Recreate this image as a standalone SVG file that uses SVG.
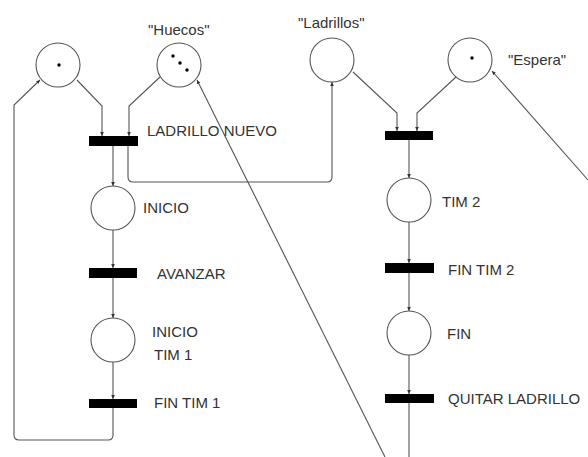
<svg xmlns="http://www.w3.org/2000/svg" width="588" height="457" viewBox="0 0 588 457">
<style>
.pl{fill:#fff;stroke:#555;stroke-width:1.1}
.tr{fill:#000}
.tk{fill:#000}
.ln{fill:none;stroke:#555;stroke-width:1.1}
.lb{font-family:"Liberation Sans",Arial,sans-serif;font-size:15px;fill:#333}
</style>
<defs>
<marker id="ah" markerUnits="userSpaceOnUse" markerWidth="6" markerHeight="6" refX="4" refY="3" orient="auto">
<path d="M0,1.2 L4,3 L0,4.8 z" fill="#333"/>
</marker>
</defs>
<rect width="588" height="457" fill="#fff"/>
<g id="connectors">
<path class="ln" d="M77,80 L102,106 L102,136" marker-end="url(#ah)"/>
<path class="ln" d="M160,77 L129,106 L129,136" marker-end="url(#ah)"/>
<path class="ln" d="M113,146 L113,186" marker-end="url(#ah)"/>
<path class="ln" d="M128,146 L128,177 Q128,182 133,182 L327,182 Q332,182 332,177 L332,82" marker-end="url(#ah)"/>
<path class="ln" d="M113,230 L113,268" marker-end="url(#ah)"/>
<path class="ln" d="M113,278 L113,318" marker-end="url(#ah)"/>
<path class="ln" d="M113,362 L113,399" marker-end="url(#ah)"/>
<path class="ln" d="M113,408 L113,435 Q113,440 108,440 L19,440 Q14,440 14,435 L14,105 L40,80" marker-end="url(#ah)"/>
<path class="ln" d="M353,72 L397,113 L397,131" marker-end="url(#ah)"/>
<path class="ln" d="M456,77 L417,113 L417,131" marker-end="url(#ah)"/>
<path class="ln" d="M409,139 L409,178" marker-end="url(#ah)"/>
<path class="ln" d="M409,222 L409,263" marker-end="url(#ah)"/>
<path class="ln" d="M409,273 L409,311" marker-end="url(#ah)"/>
<path class="ln" d="M409,355 L409,394" marker-end="url(#ah)"/>
<path class="ln" d="M409,403 L409,457"/>
<path class="ln" d="M385,457 L197,80" marker-end="url(#ah)"/>
<path class="ln" d="M588,180 L492,71" marker-end="url(#ah)"/>
</g>
<g id="p1"><circle class="pl" cx="58" cy="65" r="22"/><circle class="tk" cx="59" cy="65" r="1.7"/></g>
<g id="huecos"><circle class="pl" cx="179" cy="65" r="22"/><circle class="tk" cx="173" cy="56" r="1.7"/><circle class="tk" cx="180" cy="63" r="1.7"/><circle class="tk" cx="187" cy="70" r="1.7"/><text class="lb" x="148" y="35">"Huecos"</text></g>
<g id="ladrillos"><circle class="pl" cx="332" cy="60" r="22"/><text class="lb" x="298" y="28">"Ladrillos"</text></g>
<g id="espera"><circle class="pl" cx="470" cy="60" r="22"/><circle class="tk" cx="472" cy="58" r="1.7"/><text class="lb" x="508" y="65">"Espera"</text></g>
<g id="t-ladrillo-nuevo"><rect class="tr" x="89" y="136" width="49" height="10"/><text class="lb" x="147" y="136">LADRILLO NUEVO</text></g>
<g id="inicio"><circle class="pl" cx="113" cy="208" r="22"/><text class="lb" x="143" y="213">INICIO</text></g>
<g id="t-avanzar"><rect class="tr" x="89" y="268" width="48" height="10"/><text class="lb" x="157" y="279">AVANZAR</text></g>
<g id="inicio-tim1"><circle class="pl" cx="113" cy="340" r="22"/><text class="lb" x="152" y="337">INICIO</text><text class="lb" x="154" y="360">TIM 1</text></g>
<g id="t-fin-tim1"><rect class="tr" x="89" y="399" width="48" height="9"/><text class="lb" x="154" y="408">FIN TIM 1</text></g>
<g id="t-right"><rect class="tr" x="385" y="131" width="48" height="9"/></g>
<g id="tim2"><circle class="pl" cx="409" cy="200" r="22"/><text class="lb" x="442" y="207">TIM 2</text></g>
<g id="t-fin-tim2"><rect class="tr" x="385" y="263" width="49" height="10"/><text class="lb" x="448" y="275">FIN TIM 2</text></g>
<g id="fin"><circle class="pl" cx="409" cy="333" r="22"/><text class="lb" x="447" y="339">FIN</text></g>
<g id="t-quitar"><rect class="tr" x="385" y="394" width="49" height="9"/><text class="lb" x="448" y="404">QUITAR LADRILLO</text></g>
</svg>
